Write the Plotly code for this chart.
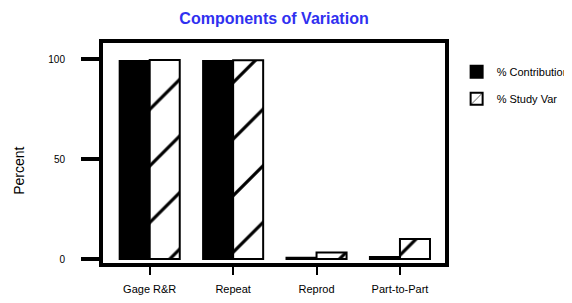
import plotly.graph_objects as go

categories = ["Gage R&R", "Repeat", "Reprod", "Part-to-Part"]
pct_contribution = [99.0, 99.0, 0.6, 1.0]
pct_study_var = [99.5, 99.4, 3.2, 10.0]
series_names = ["% Contribution", "% Study Var"]
y_tick_vals = [0, 50, 100]
y_tick_text = ["0", "50", "100"]
y_title = "Percent"

FONT = "Liberation Sans, Arial, sans-serif"

fig = go.Figure()
fig.add_trace(go.Bar(
    x=categories, y=pct_contribution, name=series_names[0],
    marker=dict(color="black", line=dict(color="black", width=2)),
    legendgroup="a",
))
fig.add_trace(go.Bar(
    x=categories, y=pct_study_var, name=series_names[1],
    marker=dict(color="white", line=dict(color="black", width=2),
                pattern=dict(shape="/", fgcolor="black", bgcolor="white",
                             size=40, solidity=0.08, fillmode="replace")),
    legendgroup="b",
))

# page body has an 8px margin, so the figure is offset by 8px in the window
W, H = 564, 295
fig.update_layout(
    width=W, height=H,
    margin=dict(l=95, r=127, t=35, b=40, autoexpand=False),
    paper_bgcolor="white", plot_bgcolor="white",
    barmode="group", bargap=0.28, bargroupgap=0,
    font=dict(family=FONT, size=10, color="black"),
    title=dict(text="<b>Components of Variation</b>", x=0.5, xref="paper",
               xanchor="center", y=1 - 10 / H, yref="container", yanchor="middle",
               font=dict(family=FONT, size=16, color="#3030f0")),
    legend=dict(x=1.034, xanchor="left", y=0.935, yanchor="top",
                font=dict(size=11, family=FONT), tracegroupgap=8,
                traceorder="grouped", bgcolor="rgba(0,0,0,0)"),
    showlegend=True,
    annotations=[dict(text=y_title, xref="paper", yref="paper", x=-0.248, y=0.42,
                      xanchor="center", yanchor="middle", textangle=-90,
                      showarrow=False, font=dict(size=14, family=FONT, color="black"))],
)
fig.update_xaxes(
    type="category", range=[-0.56, 3.54], automargin=False,
    showline=True, linecolor="black", linewidth=4, mirror=True,
    ticks="outside", ticklen=8, tickwidth=2, tickcolor="black",
    showgrid=False, zeroline=False, ticklabelstandoff=5,
    tickfont=dict(size=11, family=FONT),
)
fig.update_yaxes(
    range=[-2, 108], tickvals=y_tick_vals, ticktext=y_tick_text, automargin=False,
    showline=True, linecolor="black", linewidth=4, mirror=True,
    ticks="outside", ticklen=18, tickwidth=4, tickcolor="black",
    showgrid=False, zeroline=False, ticklabelstandoff=14,
    tickfont=dict(size=10, family=FONT),
)

fig.write_html("out.html")
